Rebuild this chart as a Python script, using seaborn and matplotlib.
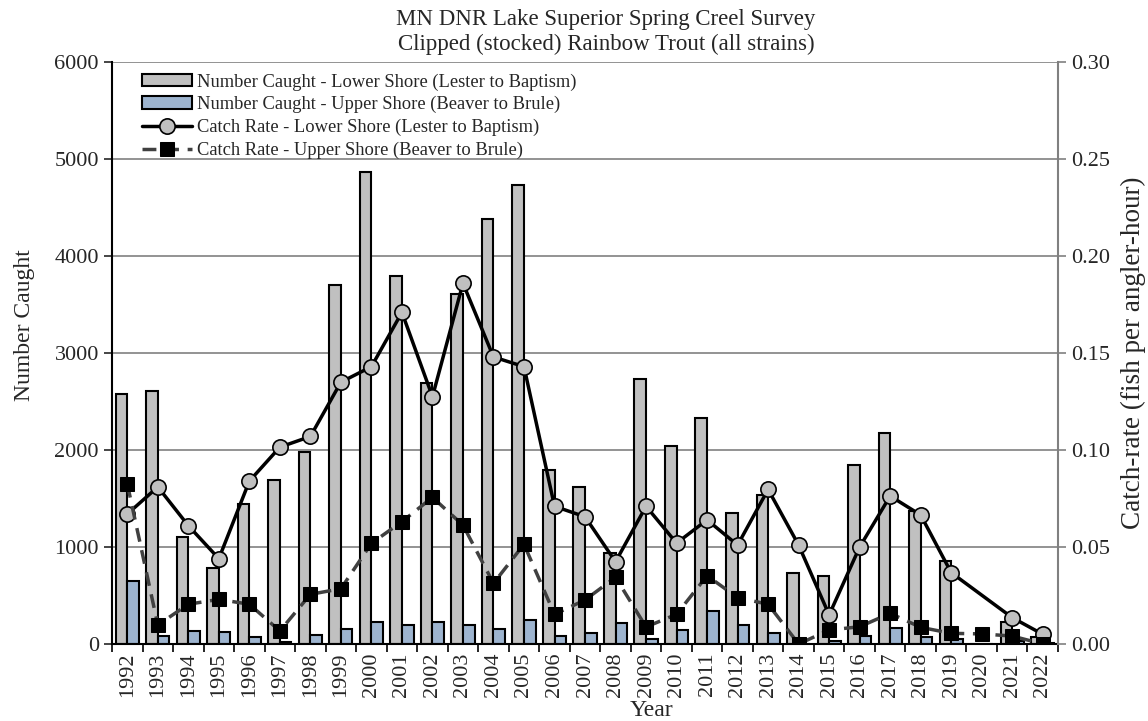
import numpy as np
import pandas as pd
import matplotlib
matplotlib.use("Agg")
import matplotlib.pyplot as plt
from matplotlib.ticker import FixedLocator
import seaborn as sns

years = list(range(1992, 2023))

# Number caught (left axis)
caught_lower = [2580, 2610, 1100, 780, 1440, 1690, 1980, 3700, 4870, 3790,
                2690, 3610, 4380, 4730, 1790, 1620, 940, 2730, 2040, 2330,
                1350, 1540, 730, 700, 1850, 2180, 1370, 860, 0, 230, 70]
caught_upper = [650, 80, 130, 120, 70, 20, 90, 150, 230, 200,
                230, 195, 158, 247, 82, 110, 220, 48, 148, 344,
                192, 110, 0, 34, 82, 168, 72, 55, 0, 30, 10]

# Catch rate (right axis), 2020 lower shore missing
rate_lower = [0.067, 0.081, 0.061, 0.044, 0.084, 0.1015, 0.107, 0.135, 0.143, 0.171,
              0.1275, 0.186, 0.148, 0.143, 0.071, 0.0656, 0.0424, 0.071, 0.052, 0.064,
              0.051, 0.0797, 0.051, 0.015, 0.050, 0.0763, 0.0665, 0.0368, np.nan, 0.0136, 0.005]
rate_upper = [0.0825, 0.0098, 0.0205, 0.023, 0.0205, 0.0067, 0.0256, 0.0285, 0.0519, 0.0631,
              0.0756, 0.0613, 0.0313, 0.0514, 0.0153, 0.0227, 0.0344, 0.0088, 0.0153, 0.0352,
              0.0239, 0.0205, 0.0, 0.0072, 0.0089, 0.0158, 0.0086, 0.0055, 0.0052, 0.0041, 0.0]

lab_nl = "Number Caught - Lower Shore (Lester to Baptism)"
lab_nu = "Number Caught - Upper Shore (Beaver to Brule)"
lab_rl = "Catch Rate - Lower Shore (Lester to Baptism)"
lab_ru = "Catch Rate - Upper Shore (Beaver to Brule)"

bars = pd.DataFrame({
    "Year": [str(y) for y in years] * 2,
    "Caught": caught_lower + caught_upper,
    "Series": [lab_nl] * len(years) + [lab_nu] * len(years),
})
rates = pd.DataFrame({"pos": np.arange(len(years)), "lower": rate_lower, "upper": rate_upper})

sns.set_style("white")
plt.rcParams["font.family"] = ["Liberation Serif", "DejaVu Serif"]
plt.rcParams["font.size"] = 16

fig = plt.figure(figsize=(11.48, 7.21), dpi=100)
ax = fig.add_axes([0.0976, 0.1068, 0.824, 0.807])

sns.barplot(data=bars, x="Year", y="Caught", hue="Series",
            palette=["#C0C0C0", "#95B3D7"], width=0.76,
            edgecolor="black", linewidth=1.5, ax=ax, legend=True)

ax.set_ylim(0, 6000)
ax.set_xlim(-0.5, len(years) - 0.5)
ax.set_yticks(range(0, 6001, 1000))
ax.yaxis.grid(True, color="#808080", lw=1.2)
ax.set_axisbelow(True)
ax.set_ylabel("Number Caught", fontsize=17)
ax.yaxis.set_label_coords(-0.081, 0.548)
ax.set_xlabel("Year", fontsize=17)
ax.xaxis.set_label_coords(0.57, -0.096)
ax.tick_params(axis="x", which="major", length=0, rotation=90, pad=6, labelsize=16)
ax.xaxis.set_minor_locator(FixedLocator(np.arange(-0.5, len(years), 1)))
ax.tick_params(axis="x", which="minor", length=6, width=1.2, color="black", direction="out", bottom=True)
ax.tick_params(axis="y", length=6, width=1.2, direction="out", left=True, labelsize=16)
for s in ["top", "right"]:
    ax.spines[s].set_visible(False)
ax.spines["left"].set_color("black")
ax.spines["left"].set_linewidth(1.5)
ax.spines["bottom"].set_color("black")
ax.spines["bottom"].set_linewidth(1.5)

ax2 = ax.twinx()
sns.lineplot(data=rates, x="pos", y="lower", color="black", lw=2.5, marker="o",
             markersize=11, markerfacecolor="#C0C0C0", markeredgecolor="black",
             markeredgewidth=1.2, label=lab_rl, ax=ax2)
sns.lineplot(data=rates, x="pos", y="upper", color="#404040", lw=2.5, marker="s",
             markersize=10, markerfacecolor="black", markeredgecolor="black",
             linestyle=(0, (4, 2.5)), label=lab_ru, ax=ax2)
ax2.set_ylim(0, 0.30)
ax2.set_yticks(np.arange(0, 0.301, 0.05))
ax2.set_yticklabels([f"{v:.2f}" for v in np.arange(0, 0.301, 0.05)])
ax2.set_ylabel("Catch-rate (fish per angler-hour)", fontsize=19.5)
ax2.yaxis.set_label_coords(1.066, 0.5)
ax2.tick_params(axis="y", length=6, width=1.2, direction="out", right=True, color="#808080", labelsize=16)
for s in ["top", "left", "bottom"]:
    ax2.spines[s].set_visible(False)
ax2.spines["right"].set_color("#808080")
ax2.spines["right"].set_linewidth(1.5)
ax2.set_xlim(-0.5, len(years) - 0.5)

h1, l1 = ax.get_legend_handles_labels()
h2, l2 = ax2.get_legend_handles_labels()
ax.get_legend().remove()
ax2.legend(h1 + h2, l1 + l2, loc="upper left", bbox_to_anchor=(0.02, 1.0),
           frameon=False, fontsize=13.3, handlelength=2.7, handletextpad=0.3,
           labelspacing=0.3, borderaxespad=0.2)

fig.suptitle("MN DNR Lake Superior Spring Creel Survey\nClipped (stocked) Rainbow Trout (all strains)",
             x=0.528, y=0.988, va="top", fontsize=16.5, linespacing=1.25)

fig.savefig("out.png", dpi=100)
